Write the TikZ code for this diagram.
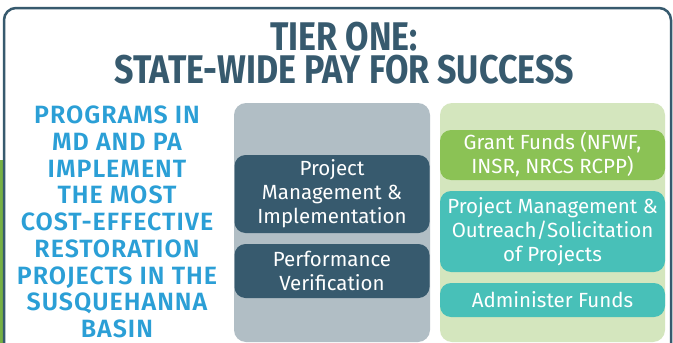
\documentclass[tikz,border=0pt]{standalone}
\usepackage{fontspec}
\setmainfont{Fira Sans}
\newfontfamily\titlefont[FakeStretch=0.85]{Fira Sans Bold}
\newfontfamily\leftfont[LetterSpace=4]{Fira Sans SemiBold}
\definecolor{darkslate}{HTML}{375A6E}
\definecolor{skyblue}{HTML}{2B9FD6}
\definecolor{graypanel}{HTML}{B1BEC5}
\definecolor{greenpanel}{HTML}{D4E6BE}
\definecolor{grantgreen}{HTML}{8BC255}
\definecolor{tealbox}{HTML}{48C0B8}
\definecolor{stripgreen}{HTML}{76B043}
\tikzset{
  titletext/.style={text=darkslate, anchor=base, inner sep=0pt, text height=27.5pt, text depth=0pt,
    font=\titlefont\fontsize{40}{32}\selectfont},
  itembox/.style={rounded corners=11pt, inner sep=0pt, text=white, align=center,
    font=\fontsize{20.5}{24}\selectfont},
}
\begin{document}
\begin{tikzpicture}[x=1pt,y=-1pt]
\useasboundingbox (0,0) rectangle (673,343);
\clip (0,0) rectangle (673,343);
\fill[white] (0,0) rectangle (673,343);
% left green strip
\fill[stripgreen] (0,160) rectangle (3,343);
% outer frame
\draw[darkslate, line width=2.5pt, rounded corners=12pt] (4,8) rectangle (671,380);
% title
\node[titletext] (title1) at (344,50) {TIER ONE:};
\node[titletext] (title2) at (344,83) {STATE-WIDE PAY FOR SUCCESS};
% left text
\node[text=skyblue, align=center, font=\leftfont\fontsize{25}{26.7}\selectfont] (lefttext) at (117,222)
  {PROGRAMS IN\\MD AND PA\\IMPLEMENT\\THE MOST\\COST-EFFECTIVE\\RESTORATION\\PROJECTS IN THE\\SUSQUEHANNA\\BASIN};
% panels
\fill[graypanel, rounded corners=12pt] (234,103) rectangle (430,342);
\coordinate (graytop) at (332,103);
\fill[greenpanel, rounded corners=12pt] (440,103) rectangle (665,342);
\coordinate (greentop) at (552,103);
% gray items
\node[itembox, fill=darkslate, minimum width=195pt, minimum height=78pt] (pmi) at (332,194)
  {Project\\Management \&\\Implementation};
\node[itembox, fill=darkslate, minimum width=195pt, minimum height=54pt] (pv) at (332,271)
  {Performance\\Verification};
% green items
\node[itembox, fill=grantgreen, minimum width=225pt, minimum height=50pt] (grant) at (552.5,155)
  {Grant Funds (NFWF,\\INSR, NRCS RCPP)};
\node[itembox, fill=tealbox, minimum width=225pt, minimum height=81pt] (outreach) at (552.5,231.5)
  {Project Management \&\\Outreach/Solicitation\\of Projects};
\node[itembox, fill=tealbox, minimum width=225pt, minimum height=34pt] (admin) at (552.5,300)
  {Administer Funds};
\end{tikzpicture}
\end{document}
